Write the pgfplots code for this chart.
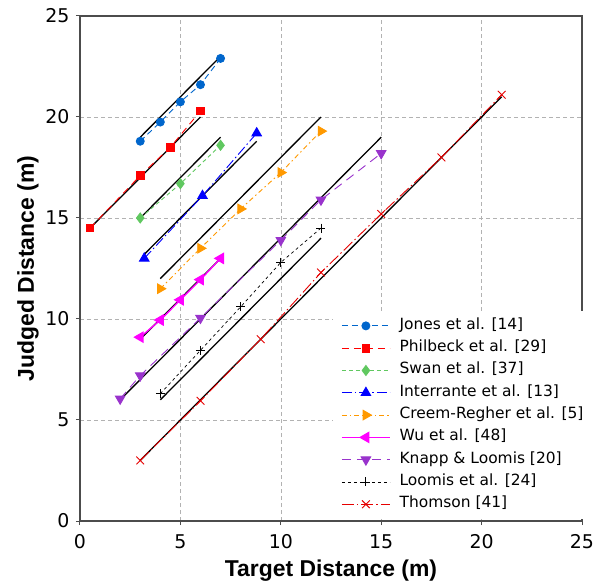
\documentclass[border=0pt]{standalone}
\usepackage{pgfplots}
\pgfplotsset{compat=1.18}
\usepackage{fontspec}
\setmainfont{DejaVu Sans}
\newfontfamily\labfont{Liberation Sans}
\definecolor{cjones}{RGB}{0,102,204}
\definecolor{cphil}{RGB}{255,0,0}
\definecolor{cswan}{RGB}{96,200,96}
\definecolor{cinter}{RGB}{0,0,255}
\definecolor{ccreem}{RGB}{255,153,0}
\definecolor{cwu}{RGB}{255,0,255}
\definecolor{cknapp}{RGB}{153,51,204}
\definecolor{cloomis}{RGB}{0,0,0}
\definecolor{cthom}{RGB}{230,0,0}
\begin{document}
\begin{tikzpicture}
\begin{axis}[
  width=502bp, height=505bp, scale only axis,
  xmin=0, xmax=25, ymin=0, ymax=25,
  xtick={0,5,...,25}, ytick={0,5,...,25},
  grid=major, grid style={dash pattern=on 4bp off 3bp, color=black!30, line width=0.6bp},
  axis line style={color=black!70, line width=1.2bp},
  tick align=outside, tick pos=left, major tick length=4bp,
  tick style={black!70, line width=1bp},
  /pgf/number format/assume math mode=true,
  ticklabel style={font=\fontsize{19}{22}\selectfont},
  xticklabel style={yshift=-6bp},
  yticklabel style={xshift=-3bp},
  xlabel={Target Distance (m)}, ylabel={Judged Distance (m)},
  label style={font=\labfont\bfseries\fontsize{23}{26}\selectfont},
  xlabel style={at={([yshift=-50bp]axis description cs:0.5,0)}, anchor=center},
  ylabel style={at={([xshift=-52bp]axis description cs:0,0.5)}, anchor=center},
  legend cell align=left,
  legend style={at={(0.504,0.004)}, anchor=south west, draw=none, fill=white,
    font=\fontsize{15.5}{18}\selectfont, inner xsep=8bp, inner ysep=7bp,
    row sep=7.3bp, column sep=9bp,
    nodes={inner sep=0pt, text height=11bp, text depth=4bp}},
  legend image code/.code={\draw[mark repeat=2,mark phase=2] plot coordinates {(0bp,0bp) (24bp,0bp) (48bp,0bp)};},
]
% reference lines
\addplot[black, line width=1.3bp, forget plot] coordinates {(3,19) (7,23)};
\addplot[black, line width=1.3bp, forget plot] coordinates {(0.5,14.5) (6,20)};
\addplot[black, line width=1.3bp, forget plot] coordinates {(3,15) (7,19)};
\addplot[black, line width=1.3bp, forget plot] coordinates {(3.2,13.2) (8.8,18.8)};
\addplot[black, line width=1.3bp, forget plot] coordinates {(4,12) (12,20)};
\addplot[black, line width=1.3bp, forget plot] coordinates {(3,9) (7,13)};
\addplot[black, line width=1.3bp, forget plot] coordinates {(2,6) (15,19)};
\addplot[black, line width=1.3bp, forget plot] coordinates {(4,6) (12,14)};
\addplot[black, line width=1.3bp, forget plot] coordinates {(3,3) (21,21)};
% data
\addplot[cjones, line width=0.9bp, dash pattern=on 6bp off 4bp, mark=*, mark size=4bp, mark options={solid, fill=cjones}]
  coordinates {(3,18.8) (4,19.75) (5,20.75) (6,21.6) (7,22.9)};
\addlegendentry{Jones et al. [14]}
\addplot[cphil, line width=0.9bp, dash pattern=on 7bp off 5bp, mark=square*, mark size=3.8bp, mark options={solid, fill=cphil}]
  coordinates {(0.5,14.5) (3,17.1) (4.5,18.5) (6,20.3)};
\addlegendentry{Philbeck et al. [29]}
\addplot[cswan, line width=0.9bp, dash pattern=on 4bp off 3bp, mark=diamond*, mark size=5bp, mark options={solid, fill=cswan}]
  coordinates {(3,15.0) (5,16.7) (7,18.6)};
\addlegendentry{Swan et al. [37]}
\addplot[cinter, line width=0.9bp, dash pattern=on 10bp off 3bp on 1.5bp off 3bp, mark=triangle*, mark size=5.5bp, mark options={solid, fill=cinter}]
  coordinates {(3.2,13.0) (6.1,16.1) (8.8,19.2)};
\addlegendentry{Interrante et al. [13]}
\addplot[ccreem, line width=0.9bp, dash pattern=on 5bp off 3bp on 1.5bp off 3bp, mark=triangle*, mark size=5.5bp, mark options={solid, fill=ccreem, rotate=-90}]
  coordinates {(4,11.5) (6,13.5) (8,15.45) (10,17.25) (12,19.3)};
\addlegendentry{Creem-Regher et al. [5]}
\addplot[cwu, line width=1.4bp, mark=triangle*, mark size=5.5bp, mark options={solid, fill=cwu, rotate=90}]
  coordinates {(3,9.1) (4,9.95) (5,10.95) (6,11.95) (7,13.0)};
\addlegendentry{Wu et al. [48]}
\addplot[cknapp, line width=0.9bp, dash pattern=on 9bp off 6bp, mark=triangle*, mark size=5.5bp, mark options={solid, fill=cknapp, rotate=180}]
  coordinates {(2,6.05) (3,7.2) (6,10.05) (10,13.9) (12,15.9) (15,18.2)};
\addlegendentry{Knapp \& Loomis [20]}
\addplot[cloomis, line width=0.7bp, dash pattern=on 3bp off 3bp, mark=+, mark size=4.5bp, mark options={solid, line width=0.9bp}]
  coordinates {(4,6.3) (6,8.45) (8,10.6) (10,12.8) (12,14.5)};
\addlegendentry{Loomis et al. [24]}
\addplot[cthom, line width=0.9bp, dash pattern=on 12bp off 3bp on 1.5bp off 3bp, mark=x, mark size=5.5bp, mark options={solid, line width=0.9bp}]
  coordinates {(3,3.0) (6,5.95) (9,9.0) (12,12.3) (15,15.2) (18,18.0) (21,21.1)};
\addlegendentry{Thomson [41]}
\end{axis}
\pgfresetboundingbox
\path ([shift={(-80bp,-63bp)}]current axis.south west) rectangle ([shift={(13bp,16bp)}]current axis.north east);
\end{tikzpicture}
\end{document}
